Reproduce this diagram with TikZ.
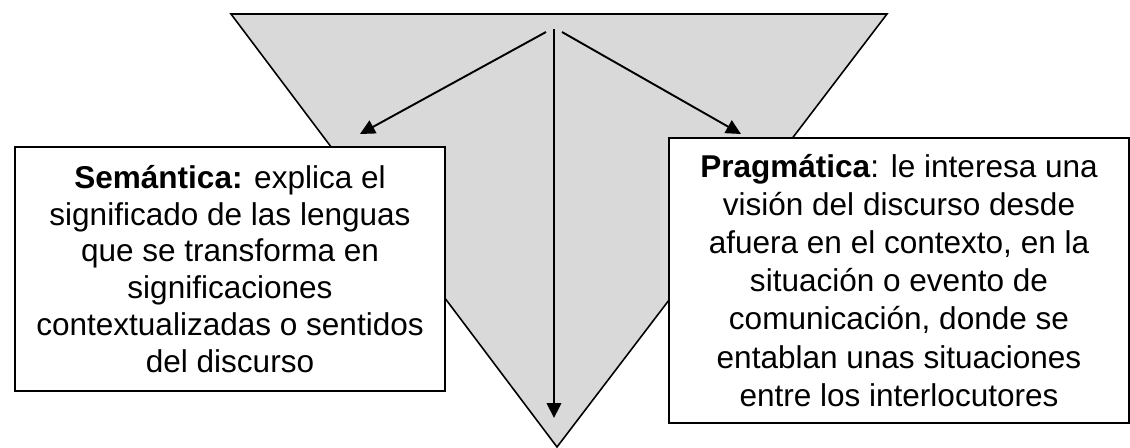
\documentclass[tikz,border=0pt]{standalone}
\usepackage{fontspec}
\setmainfont{Liberation Sans}
\usetikzlibrary{arrows.meta}
\definecolor{funnelgray}{HTML}{D9D9D9}
\tikzstyle{levelbox}=[draw=black,line width=0.8pt,fill=white,align=center,inner sep=0pt]
\tikzstyle{levelarrow}=[line width=0.85pt,-{Triangle[length=6.6pt,width=6.4pt]}]

\begin{document}
\begin{tikzpicture}[x=0.444pt,y=-0.444pt]
				\useasboundingbox (0,0) rectangle (1130,447);
				% embudo
				\draw[fill=funnelgray,line width=0.7pt] (231,14) -- (887,14) -- (557,447) -- cycle;
				\coordinate (origL) at (546,32);
				\coordinate (origC) at (554,29);
				\coordinate (origR) at (562,32);
				\coordinate (tipL) at (360,134);
				\coordinate (tipC) at (554,418);
				\coordinate (tipR) at (741,134);
				\draw[levelarrow] (origL) -- (tipL);
				\draw[levelarrow] (origC) -- (tipC);
				\draw[levelarrow] (origR) -- (tipR);
				% cajas
				\node[levelbox,minimum width=191pt,minimum height=108.3pt,
					font=\fontsize{14}{16.4}\selectfont] (semantica) at (230,269)
					{\textbf{Semántica:} explica el\\significado de las lenguas\\que se transforma en\\significaciones\\contextualizadas o sentidos\\del discurso};
				\node[levelbox,minimum width=204pt,minimum height=126.5pt,
					font=\fontsize{14}{16.9}\selectfont] (pragmatica) at (899,280.5)
					{\textbf{Pragmática}: le interesa una\\visión del discurso desde\\afuera en el contexto, en la\\situación o evento de\\comunicación, donde se\\entablan unas situaciones\\entre los interlocutores};
			\end{tikzpicture}
\end{document}
